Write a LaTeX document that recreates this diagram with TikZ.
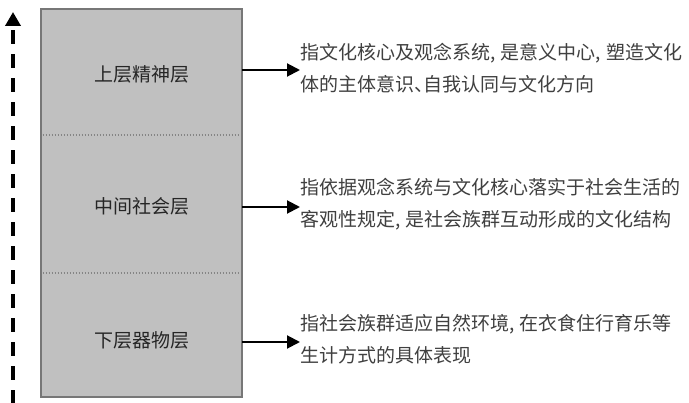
\documentclass[tikz,border=0pt]{standalone}
\usepackage{fontspec}
\newfontfamily\cjk{Noto Sans CJK SC}
\usetikzlibrary{arrows.meta}
\definecolor{boxfill}{HTML}{C0C0C0}
\definecolor{boxline}{HTML}{777777}
\definecolor{txt}{HTML}{404040}
\newcommand{\hc}{,\hspace{5.5pt}}
\newcommand{\hd}{\makebox[9.5pt][l]{、}}
\tikzset{
  layerbox/.style={draw=boxline, fill=boxfill, line width=2.5pt},
  sep/.style={draw=boxline!90, line width=1.2pt, dash pattern=on 1.5pt off 1.5pt},
  layerlabel/.style={font=\cjk\fontsize{19}{24}\selectfont, text=black!85, inner sep=0pt},
  desc/.style={font=\cjk\fontsize{19}{32}\selectfont, text=txt, align=left, anchor=west, inner sep=0pt},
  outarrow/.style={line width=2pt, -{Triangle[length=13pt,width=13pt]}},
  uparrow/.style={line width=3.6pt, dash pattern=on 14pt off 10pt, -{Triangle[length=14pt,width=15pt]}}
}
\begin{document}
\begin{tikzpicture}[x=1pt,y=-1pt]
\useasboundingbox (0,0) rectangle (689,403);
\fill[white] (0,0) rectangle (689,403);
\draw[layerbox] (41,9) rectangle (242,397);
\draw[sep] (42.5,135) -- (240.5,135);
\draw[sep] (42.5,273) -- (240.5,273);
\node[layerlabel] (l1) at (142,74) {上层精神层};
\node[layerlabel] (l2) at (142,206) {中间社会层};
\node[layerlabel] (l3) at (142,340) {下层器物层};
\node[desc] (d1) at (300,68) {指文化核心及观念系统\hc 是意义中心\hc 塑造文化\\体的主体意识\hd 自我认同与文化方向};
\node[desc] (d2) at (300,204) {指依据观念系统与文化核心落实于社会生活的\\客观性规定\hc 是社会族群互动形成的文化结构};
\node[desc] (d3) at (300,339) {指社会族群适应自然环境\hc 在衣食住行育乐等\\生计方式的具体表现};
\coordinate (s1) at (242,70);
\coordinate (s2) at (242,207);
\coordinate (s3) at (242,342);
\draw[outarrow] (s1) -- (s1 -| d1.west);
\draw[outarrow] (s2) -- (s2 -| d2.west);
\draw[outarrow] (s3) -- (s3 -| d3.west);
\coordinate (u0) at (13,404);
\coordinate (u1) at (13,12);
\draw[uparrow] (u0) -- (u1);
\end{tikzpicture}
\end{document}
